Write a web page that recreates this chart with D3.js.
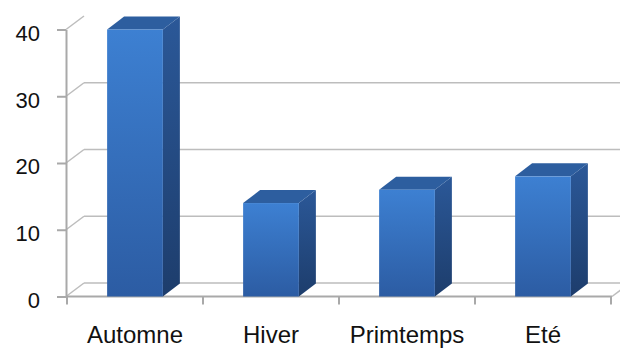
<!DOCTYPE html>
<html>
<head>
<meta charset="utf-8">
<script src="https://cdn.jsdelivr.net/npm/d3@7/dist/d3.min.js"></script>
<style>
  html, body { margin: 0; padding: 0; background: #fff; }
  svg { display: block; }
  text { font-family: "Liberation Sans", Arial, sans-serif; fill: #111; }
</style>
</head>
<body>
<svg id="chart" width="620" height="349"></svg>
<script>
// Saisons et valeurs
const categories = ["Automne", "Hiver", "Primtemps", "Eté"];
const values = [40, 14, 16, 18];
const yTicks = [0, 10, 20, 30, 40];
const gridTicks = [0, 10, 20, 30];

const W = 620, H = 349;
const svg = d3.select("#chart");

// Oblique depth of the back wall and of the columns
const wallDx = 18, wallDy = -13.5;
const barDx = 17, barDy = -13;

const x = d3.scaleBand().domain(categories).range([67, 611]).padding(0);
const y = d3.scaleLinear().domain([0, 40]).range([296.5, 29.5]);
const barW = x.bandwidth() * 0.41;

const defs = svg.append("defs");
function grad(id, c1, c2) {
  const g = defs.append("linearGradient").attr("id", id)
    .attr("x1", 0).attr("y1", 0).attr("x2", 0).attr("y2", 1);
  g.append("stop").attr("offset", "0%").attr("stop-color", c1);
  g.append("stop").attr("offset", "100%").attr("stop-color", c2);
}
grad("front", "#3d80d2", "#2c5ca3");
grad("side", "#2b5898", "#1d3d6c");

const gridColor = "#bdbdbd";
const axisColor = "#a9a9a9";

// Back wall gridlines and their diagonal links to the front axis
const grid = svg.append("g");
grid.selectAll("line.back").data(gridTicks).join("line")
  .attr("x1", 66 + wallDx).attr("x2", W)
  .attr("y1", d => y(d) + wallDy).attr("y2", d => y(d) + wallDy)
  .attr("stroke", gridColor).attr("stroke-width", 1.5);
grid.selectAll("line.diag").data(yTicks).join("line")
  .attr("x1", 66).attr("y1", d => y(d))
  .attr("x2", 66 + wallDx).attr("y2", d => y(d) + wallDy)
  .attr("stroke", gridColor).attr("stroke-width", 1.5);

// Floor: front edge and right edge
const xEnd = x(categories[categories.length - 1]) + x.bandwidth();
grid.append("line")
  .attr("x1", 66).attr("x2", xEnd + 1)
  .attr("y1", y(0)).attr("y2", y(0))
  .attr("stroke", axisColor).attr("stroke-width", 2);
grid.append("line")
  .attr("x1", xEnd + 1).attr("y1", y(0))
  .attr("x2", xEnd + 1 + wallDx).attr("y2", y(0) + wallDy)
  .attr("stroke", gridColor).attr("stroke-width", 1.5);

// Category boundary ticks below the floor
const bounds = categories.map(c => x(c)).concat([xEnd]);
grid.selectAll("line.xt").data(bounds).join("line")
  .attr("x1", d => d).attr("x2", d => d)
  .attr("y1", y(0)).attr("y2", y(0) + 8)
  .attr("stroke", axisColor).attr("stroke-width", 2);

// Value axis
const yAxis = d3.axisLeft(y).tickValues(yTicks).tickSizeInner(9).tickSizeOuter(0).tickPadding(17);
const ya = svg.append("g").attr("transform", "translate(66,0)").call(yAxis);
ya.select(".domain").attr("stroke", axisColor).attr("stroke-width", 2);
ya.selectAll(".tick line").attr("stroke", axisColor).attr("stroke-width", 2);
ya.selectAll(".tick text")
  .attr("dy", "0.49em")
  .style("font-family", "'Liberation Sans', Arial, sans-serif")
  .style("font-size", "22px").attr("fill", "#111");

// 3D columns
const bars = svg.append("g").selectAll("g").data(categories.map((c, i) => ({ c, v: values[i] }))).join("g");
bars.each(function(d) {
  const g = d3.select(this);
  const cx = x(d.c) + x.bandwidth() / 2;
  const x0 = cx - barW / 2, x1 = cx + barW / 2;
  const yt = y(d.v), yb = y(0);
  // right side face
  g.append("path")
    .attr("d", `M${x1},${yt} L${x1 + barDx},${yt + barDy} L${x1 + barDx},${yb + barDy} L${x1},${yb} Z`)
    .attr("fill", "url(#side)");
  // top face
  g.append("path")
    .attr("d", `M${x0},${yt} L${x0 + barDx},${yt + barDy} L${x1 + barDx},${yt + barDy} L${x1},${yt} Z`)
    .attr("fill", "#2d5e9f");
  // front face
  g.append("rect")
    .attr("x", x0).attr("y", yt).attr("width", barW).attr("height", yb - yt)
    .attr("fill", "url(#front)");
});

// Category labels
svg.append("g").selectAll("text").data(categories).join("text")
  .attr("x", d => x(d) + x.bandwidth() / 2)
  .attr("y", 343)
  .attr("text-anchor", "middle")
  .style("font-size", "24px")
  .text(d => d);
</script>
</body>
</html>
